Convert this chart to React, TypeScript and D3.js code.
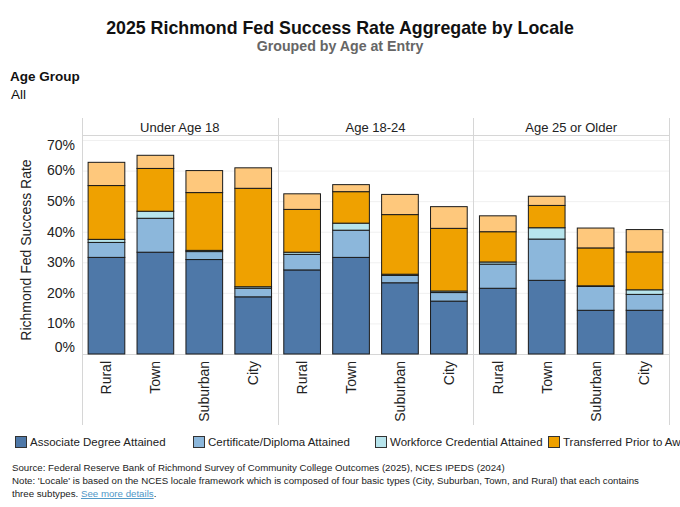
import React from "react";
import * as d3 from "d3";

const ageGroups = ["Under Age 18", "Age 18-24", "Age 25 or Older"];
const locales = ["Rural", "Town", "Suburban", "City"];
const seriesNames = [
  "Associate Degree Attained",
  "Certificate/Diploma Attained",
  "Workforce Credential Attained",
  "Transferred Prior to Award",
  "Other",
];
// values in %, order: age group x locale
const associate = [31.6, 33.3, 30.9, 18.7, 27.5, 31.6, 23.3, 17.3, 21.5, 24.1, 14.3, 14.3];
const certificate = [4.9, 11.1, 2.6, 2.8, 5.1, 8.9, 2.4, 2.8, 7.9, 13.5, 7.8, 5.2];
const workforce = [1.0, 2.3, 0.4, 0.5, 0.7, 2.3, 0.4, 0.5, 0.7, 3.7, 0.2, 1.5];
const transferred = [17.6, 14.0, 18.9, 32.2, 14.0, 10.3, 19.5, 20.5, 9.9, 7.3, 12.4, 12.4];
const other = [7.6, 4.3, 7.2, 6.7, 5.1, 2.3, 6.6, 7.1, 5.2, 3.0, 6.5, 7.3];
const yTicks = [0, 10, 20, 30, 40, 50, 60, 70];

const colors = ["#4e78a8", "#8cb7db", "#b7e4ec", "#efa100", "#fec87c"];
const font = "'Liberation Sans', Arial, sans-serif";

const App = () => {
  const W = 680,
    H = 507;
  const plot = { left: 82, right: 669, top: 140, bottom: 354, header: 118 };

  const rows = ageGroups.flatMap((g, gi) =>
    locales.map((l, li) => {
      const i = gi * locales.length + li;
      return {
        group: g,
        locale: l,
        s0: associate[i],
        s1: certificate[i],
        s2: workforce[i],
        s3: transferred[i],
        s4: other[i],
      };
    })
  );

  const stack = d3.stack<any>().keys(["s0", "s1", "s2", "s3", "s4"]);
  const layers = stack(rows);

  const y = d3.scaleLinear().domain([0, 70]).range([plot.bottom, plot.top]);
  const xPanel = d3.scaleBand().domain(ageGroups).range([plot.left, plot.right]);
  const x = d3
    .scaleBand()
    .domain(locales)
    .range([0, xPanel.bandwidth()])
    .paddingInner(0.25)
    .paddingOuter(0.125);

  const barX = (d: any) => (xPanel(d.group) as number) + (x(d.locale) as number);
  const gridColor = "#d6d6d6";

  const legendX = [15, 193, 375, 548];

  return (
    <svg
      width={W}
      height={H}
      style={{ position: "absolute", left: 0, top: 0, background: "#fff" }}
      fontFamily={font}
    >
      {/* titles */}
      <text x={340} y={34} textAnchor="middle" fontSize={17.8} fontWeight="bold" fill="#111">
        2025 Richmond Fed Success Rate Aggregate by Locale
      </text>
      <text x={340} y={51} textAnchor="middle" fontSize={14.2} fontWeight="bold" fill="#666">
        Grouped by Age at Entry
      </text>
      <text x={10} y={81} fontSize={13.5} fontWeight="bold" fill="#111">
        Age Group
      </text>
      <text x={11} y={99} fontSize={13.5} fill="#111">
        All
      </text>

      {/* gridlines */}
      {yTicks.map((t) => (
        <line
          key={t}
          x1={plot.left}
          x2={plot.right}
          y1={y(t) + 0.5}
          y2={y(t) + 0.5}
          stroke="#f0f0f0"
        />
      ))}

      {/* y axis */}
      {yTicks.map((t) => (
        <text
          key={t}
          x={75}
          y={Math.min(Math.max(y(t), plot.top + 5), plot.bottom - 7)}
          dy="0.35em"
          textAnchor="end"
          fontSize={14}
          fill="#222"
        >
          {t}%
        </text>
      ))}
      <text
        transform={`translate(31,${(plot.top + plot.bottom) / 2 + 3}) rotate(-90)`}
        textAnchor="middle"
        fontSize={14}
        fill="#222"
      >
        Richmond Fed Success Rate
      </text>

      {/* panel headers and dividers */}
      <line x1={plot.left} x2={plot.right} y1={135.5} y2={135.5} stroke={gridColor} />
      <line x1={plot.left} x2={plot.right} y1={plot.bottom + 0.5} y2={plot.bottom + 0.5} stroke={gridColor} />
      {ageGroups.map((g) => (
        <text
          key={g}
          x={(xPanel(g) as number) + xPanel.bandwidth() / 2}
          y={127}
          dy="0.35em"
          textAnchor="middle"
          fontSize={13}
          fill="#222"
        >
          {g}
        </text>
      ))}
      {[...ageGroups.map((g) => xPanel(g) as number), plot.right].map((px, i) => (
        <line
          key={i}
          x1={Math.round(px) + 0.5}
          x2={Math.round(px) + 0.5}
          y1={plot.header}
          y2={425}
          stroke={gridColor}
        />
      ))}

      {/* bars */}
      {layers.map((layer, li) => (
        <g key={li} fill={colors[li]} stroke="#1a1a1a" strokeWidth={1}>
          {layer.map((d: any, i: number) => (
            <rect
              key={i}
              x={barX(d.data)}
              y={y(d[1])}
              width={x.bandwidth()}
              height={y(d[0]) - y(d[1])}
            />
          ))}
        </g>
      ))}

      {/* category labels */}
      {rows.map((d, i) => (
        <text
          key={i}
          transform={`translate(${barX(d) + x.bandwidth() / 2},361) rotate(-90)`}
          dy="0.35em"
          textAnchor="end"
          fontSize={14}
          fill="#222"
        >
          {d.locale}
        </text>
      ))}

      {/* legend */}
      {legendX.map((lx, i) => (
        <g key={i}>
          <rect x={lx + 0.5} y={436.5} width={11} height={11} fill={colors[i]} stroke="#333" />
          <text x={lx + 15} y={442} dy="0.35em" fontSize={11.5} fill="#222">
            {seriesNames[i]}
          </text>
        </g>
      ))}

      {/* footer */}
      <g fontSize={9.7} fill="#222">
        <text x={12} y={471}>
          Source: Federal Reserve Bank of Richmond Survey of Community College Outcomes (2025), NCES IPEDS (2024)
        </text>
        <text x={12} y={484}>
          Note: 'Locale' is based on the NCES locale framework which is composed of four basic types (City, Suburban, Town, and Rural) that each contains
        </text>
        <text x={12} y={497}>
          three subtypes.{" "}
          <tspan fill="#4f97c7" textDecoration="underline">
            See more details
          </tspan>
          .
        </text>
      </g>
    </svg>
  );
};

export default App;
